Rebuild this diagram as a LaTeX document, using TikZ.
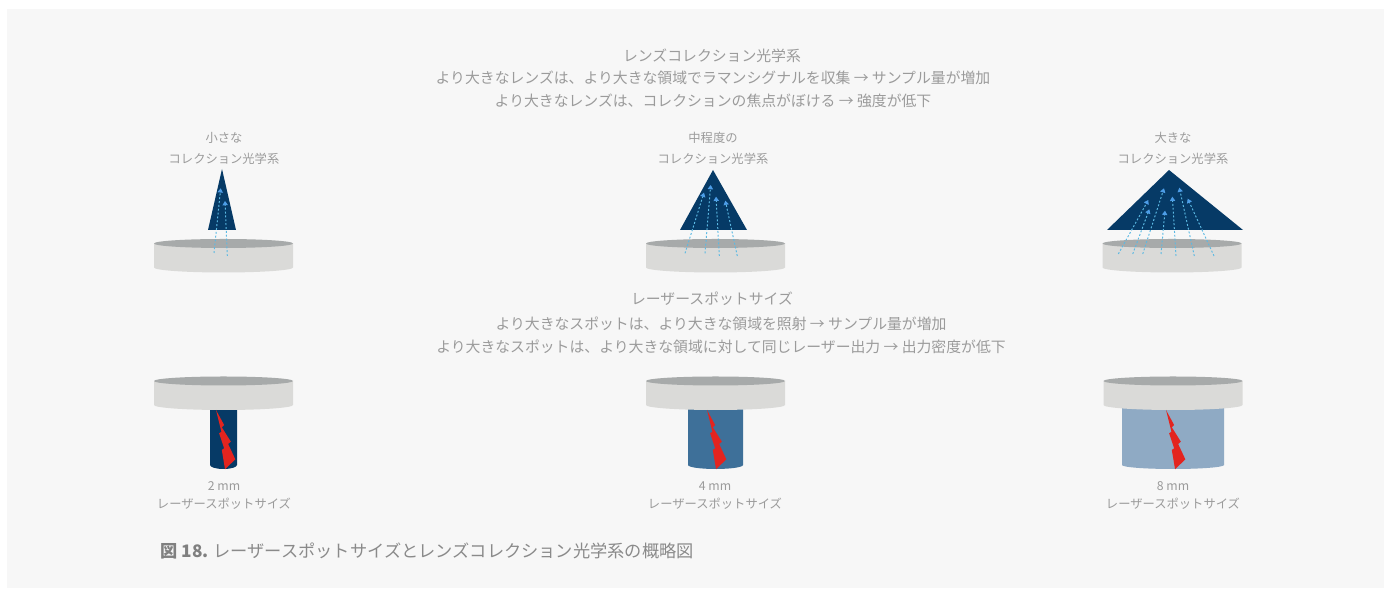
\documentclass[tikz,border=0pt]{standalone}
\usepackage{fontspec}
\setmainfont{Noto Sans CJK JP}
\usetikzlibrary{arrows.meta}

\definecolor{panelgray}{HTML}{F7F7F7}
\definecolor{textgray}{HTML}{9B9B9B}
\definecolor{capgray}{HTML}{8A8A8A}
\definecolor{navy}{HTML}{063A66}
\definecolor{midblue}{HTML}{3E7099}
\definecolor{paleblue}{HTML}{8FAAC4}
\definecolor{raycol}{HTML}{5BB9E3}
\definecolor{laserred}{HTML}{E3241F}
\definecolor{disctop}{HTML}{A7AAAA}
\definecolor{discside}{HTML}{DADAD8}

\begin{document}
\begin{tikzpicture}[x=0.02cm,y=0.02cm,
  head text/.style={text=textgray,inner sep=0pt,font=\fontsize{8.45}{10}\selectfont},
  side text/.style={text=textgray,inner sep=0pt,font=\fontsize{7}{9}\selectfont},
  ray/.style={raycol,line width=0.55pt,dash pattern=on 1.1pt off 1.1pt,
    -{Triangle[length=2.4pt,width=3pt,color=raycol!85!blue]}},
  lens/.style={fill=navy},
  bolt/.style={fill=laserred}]

  \useasboundingbox (0,0) rectangle (1391,594);
  \fill[panelgray] (7,6) rectangle (1384,585);

  % headings
  \node[head text] (lenstitle) at (712,538) {レンズコレクション光学系};
  \node[head text] (lensa) at (713,516) {より大きなレンズは、より大きな領域でラマンシグナルを収集 → サンプル量が増加};
  \node[head text] (lensb) at (713,493) {より大きなレンズは、コレクションの焦点がぼける → 強度が低下};

  \node[head text] (spottitle) at (712,295) {レーザースポットサイズ};
  \node[head text] (spota) at (721,270) {より大きなスポットは、より大きな領域を照射 → サンプル量が増加};
  \node[head text] (spotb) at (721,247) {より大きなスポットは、より大きな領域に対して同じレーザー出力 → 出力密度が低下};

  % column labels
  \node[side text] (smalla) at (224,456) {小さな};
  \node[side text] (smallb) at (224,435) {コレクション光学系};
  \node[side text] (meda) at (713,456) {中程度の};
  \node[side text] (medb) at (713,435) {コレクション光学系};
  \node[side text] (largea) at (1173,456) {大きな};
  \node[side text] (largeb) at (1173,435) {コレクション光学系};

  % laser spot cylinders (drawn first, the disc covers their top)
  \foreach \cx/\r/\col in {223.5/13.5/navy, 715.5/27.5/midblue, 1173/51/paleblue}
    \fill[\col] (\cx-\r,200) -- (\cx-\r,129)
      arc[start angle=180,end angle=360,x radius=\r,y radius=4] -- (\cx+\r,200) -- cycle;

  % sample discs
  \foreach \cx/\top in {223.5/350.5, 715.5/350.5, 1172/350.5, 223.5/213, 715.5/213, 1173/213} {
    \fill[discside] (\cx-69.5,\top) -- (\cx-69.5,\top-24)
      arc[start angle=180,end angle=360,x radius=69.5,y radius=5] -- (\cx+69.5,\top) -- cycle;
    \fill[disctop] (\cx,\top) ellipse[x radius=69.5,y radius=4.5];
  }

  % collection cones
  \fill[lens] (208,364) -- (222,425) -- (236,364) -- cycle;
  \fill[lens] (680,364) -- (713,424) -- (747,364) -- cycle;
  \fill[lens] (1107,364) -- (1169,424) -- (1243,364) -- cycle;

  % scattered light
  \foreach \xa/\ya/\xb/\yb in {214/341/220.7/405.7, 227.3/338/225/393,
      685/340.7/704/401.3, 705/340.7/710.7/409, 719.3/338/716/397.3, 737.3/338/725.3/393.3,
      1118.3/340/1148.3/394, 1132.7/340/1149.3/384.7, 1142.7/340/1164/405.7,
      1161/340/1165/383.3, 1176/338/1172.3/397.3, 1194.3/338/1179.3/406.3, 1214/338/1187.7/395.3}
    \draw[ray] (\xa,\ya) -- (\xb,\yb);

  % laser beams
  \foreach \bx in {216,707,1166}
    \fill[bolt,shift={(\bx,184)},xscale=1.35] (0,0) -- (6,-15) -- (4.3,-17.3) -- (11,-31.7) -- (9,-34)
      -- (14.3,-49.3) -- (6.7,-59.3) -- (4.3,-40) -- (6,-38.3) -- (2.3,-23.3) -- (4,-21.7) -- cycle;

  % spot sizes
  \node[side text] (twomm) at (224,108) {2 mm};
  \node[side text] (twolabel) at (224,90) {レーザースポットサイズ};
  \node[side text] (fourmm) at (715,108) {4 mm};
  \node[side text] (fourlabel) at (715,90) {レーザースポットサイズ};
  \node[side text] (eightmm) at (1173,108) {8 mm};
  \node[side text] (eightlabel) at (1173,90) {レーザースポットサイズ};

  % caption
  \node[anchor=west,inner sep=0pt,text=capgray,font=\fontsize{9.8}{12}\selectfont] (caption) at (160,43)
    {{\bfseries\color{gray}図 18.} レーザースポットサイズとレンズコレクション光学系の概略図};
\end{tikzpicture}
\end{document}
